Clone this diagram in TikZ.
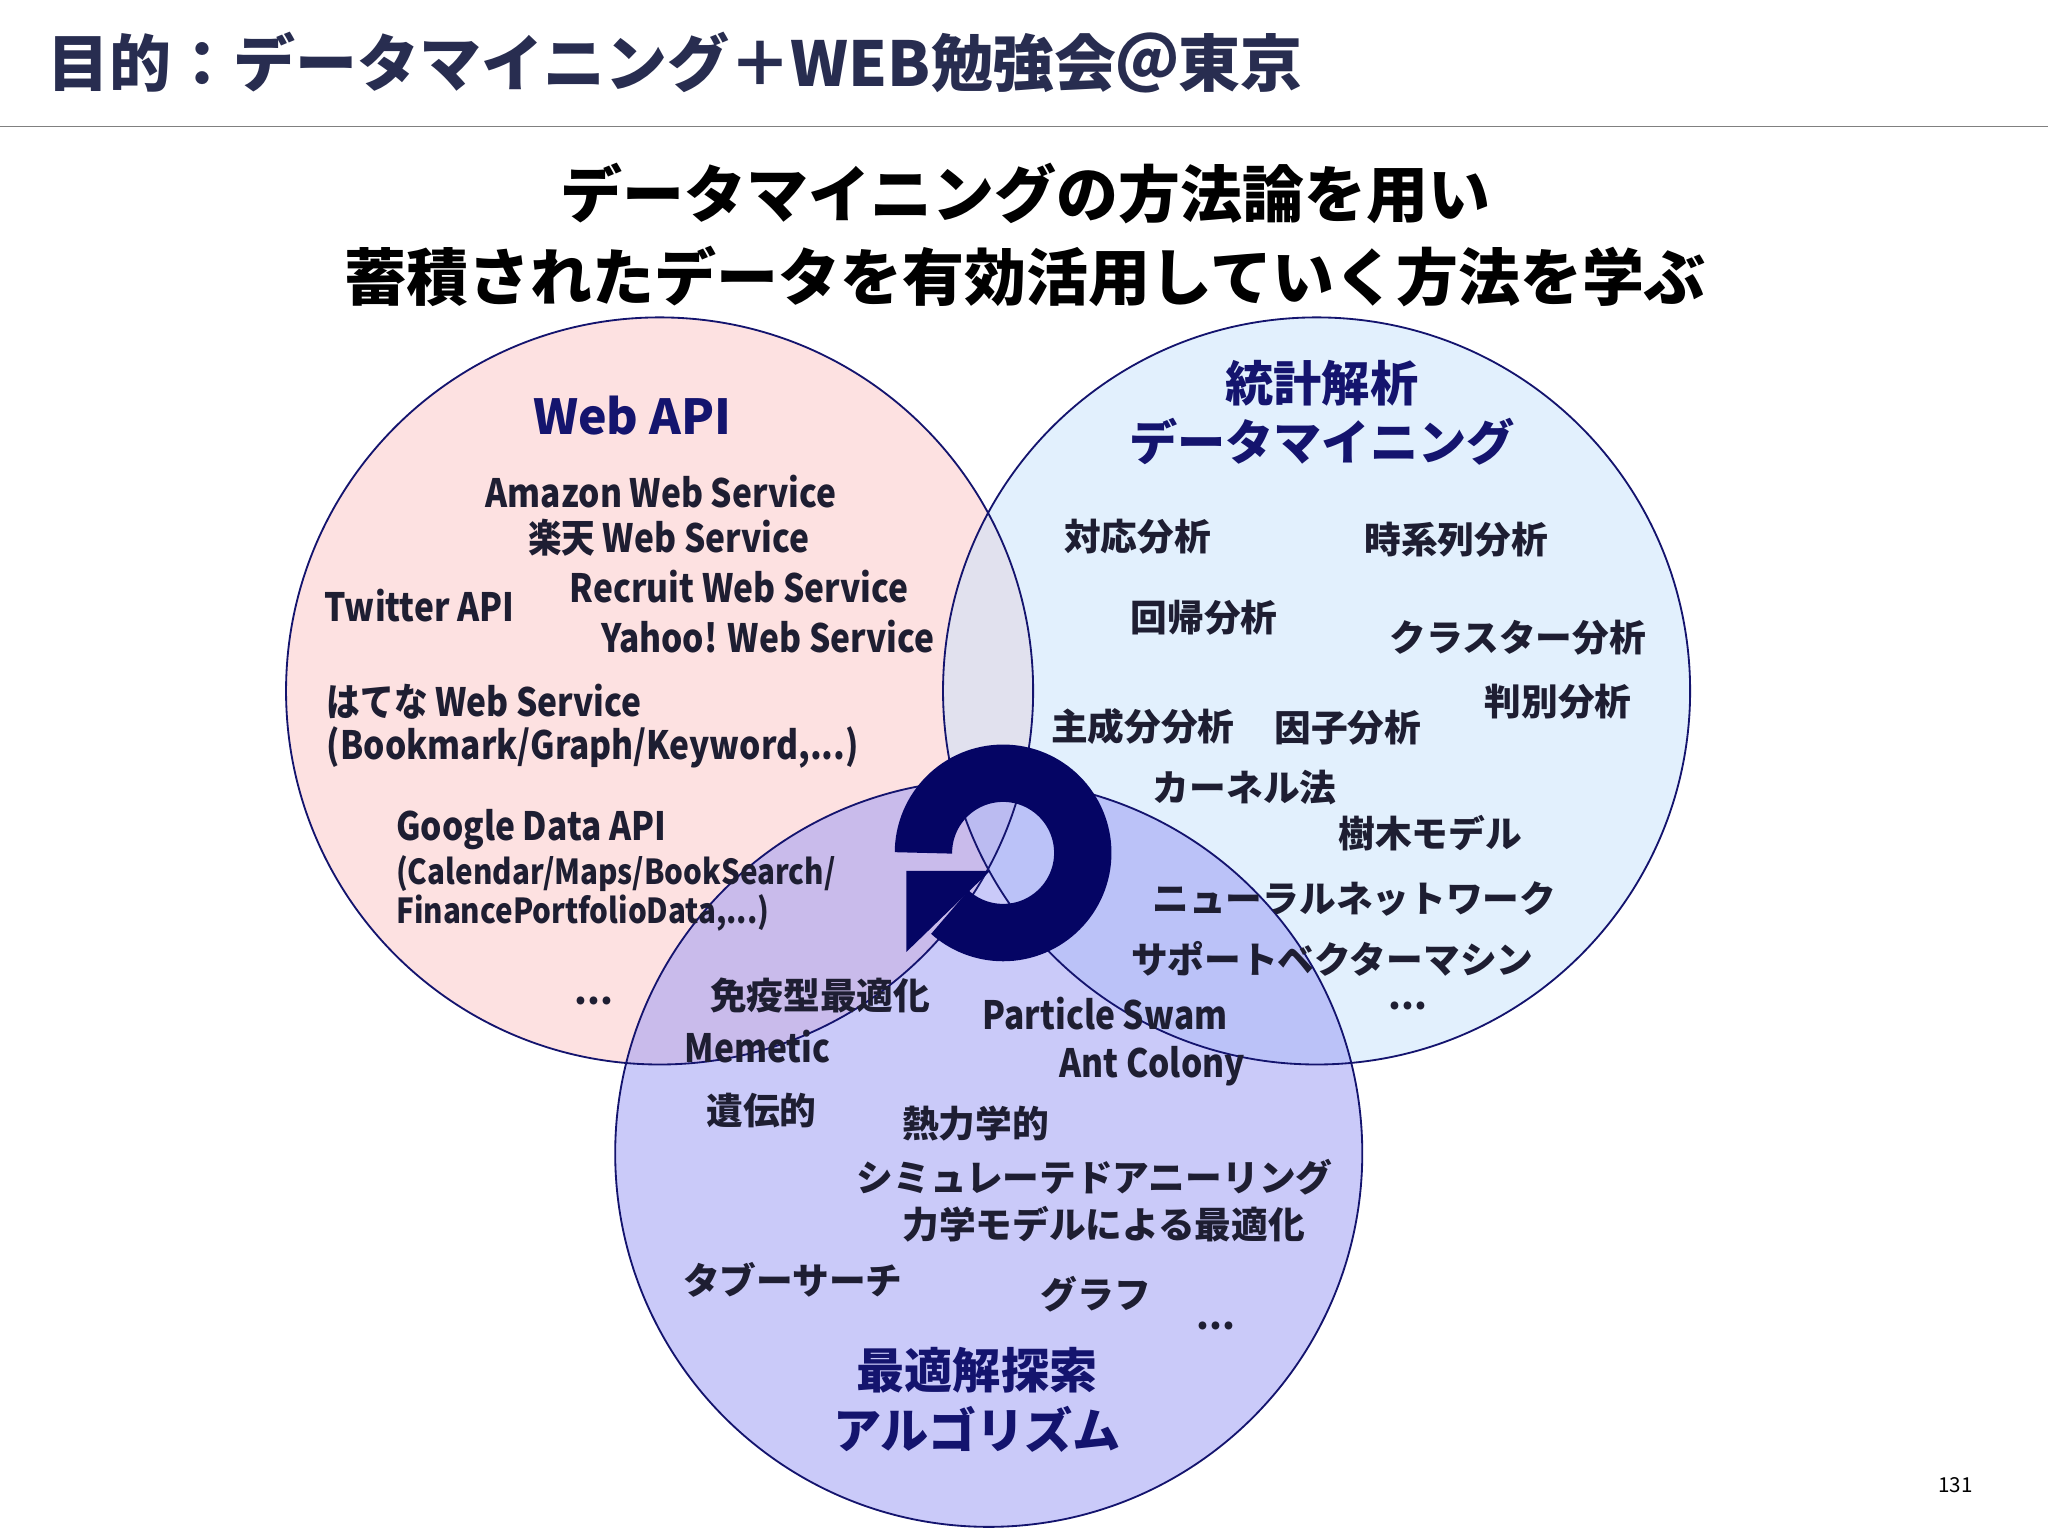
\documentclass[tikz,border=0pt]{standalone}
\usepackage{fontspec}
\setmainfont{Noto Sans CJK JP}
\definecolor{navy}{RGB}{20,20,110}
\definecolor{ringc}{RGB}{5,5,100}
\definecolor{txt}{RGB}{30,30,50}
\definecolor{ttl}{RGB}{40,45,80}
\definecolor{pinkf}{RGB}{252,196,196}
\definecolor{bluef}{RGB}{198,226,252}
\definecolor{lavf}{RGB}{150,150,245}
\tikzset{
 item/.style={font=\fontsize{16}{18}\selectfont\bfseries, text=txt, inner sep=0pt},
 lat/.style={font=\fontsize{17}{19}\selectfont\bfseries, text=txt, inner sep=0pt, xscale=0.86},
 head/.style={font=\fontsize{21}{26}\selectfont\bfseries, text=navy, align=center, inner sep=0pt},
 venn/.style={draw=navy, line width=0.8pt},
}
\begin{document}
\begin{tikzpicture}[x=0.02cm,y=-0.02cm]
\useasboundingbox (0,0) rectangle (1568,1176);
\fill[white] (0,0) rectangle (1568,1176);
\node[anchor=west, font=\fontsize{27}{30}\selectfont\bfseries, text=ttl, inner sep=0pt] (title) at (36,48) {目的：データマイニング＋WEB勉強会＠東京};
\draw[gray, line width=0.6pt] (0,97) -- (1568,97);
\node[font=\fontsize{27}{36}\selectfont\bfseries, align=center, text=black, inner sep=0pt] (sub) at (785,180) {データマイニングの方法論を用い\\蓄積されたデータを有効活用していく方法を学ぶ};
% circles
\fill[pinkf, fill opacity=0.5] (505,529) circle (286);
\fill[bluef, fill opacity=0.5] (1008,529) circle (286);
\fill[lavf, fill opacity=0.5] (757,883) circle (286);
\draw[venn] (505,529) circle (286);
\draw[venn] (1008,529) circle (286);
\draw[venn] (757,883) circle (286);
% cycle arrow
\coordinate (rc) at (768,653);
\draw[ringc, line width=25pt] (rc) ++(180:61) arc[start angle=180, end angle=492, radius=61];
\fill[ringc] (rc) ++(126:17) -- ++(-64,0) -- ++(0,62) -- cycle;
% left
\node[head] (h1) at (484,318) {Web API};
\node[lat] (a1) at (506,376) {Amazon Web Service};
\node[lat] (a2) at (512,412) {楽天 Web Service};
\node[lat] (a3) at (566,449) {Recruit Web Service};
\node[lat] (a4) at (588,487) {Yahoo! Web Service};
\node[lat] (a5) at (321,464) {Twitter API};
\node[lat, anchor=west, align=left] (a6) at (250,556) {はてな Web Service\\(Bookmark/Graph/Keyword,...)};
\node[lat, anchor=west] (a7) at (303,635) {Google Data API};
\node[lat, anchor=west, align=left, font=\fontsize{15}{17}\selectfont\bfseries] (a8) at (303,684) {(Calendar/Maps/BookSearch/\\ FinancePortfolioData,...)};
\node[item] (a9) at (455,766) {...};
% right
\node[head] (h2) at (1012,316) {統計解析\\データマイニング};
\node[item] (b1) at (871,411) {対応分析};
\node[item] (b2) at (1115,413) {時系列分析};
\node[item] (b3) at (922,473) {回帰分析};
\node[item] (b4) at (1162,488) {クラスター分析};
\node[item] (b5) at (1193,537) {判別分析};
\node[item] (b6) at (875,556) {主成分分析};
\node[item] (b7) at (1032,557) {因子分析};
\node[item] (b8) at (953,603) {カーネル法};
\node[item] (b9) at (1095,638) {樹木モデル};
\node[item] (b10) at (1037,688) {ニューラルネットワーク};
\node[item] (b11) at (1020,734) {サポートベクターマシン};
\node[item] (b12) at (1078,770) {...};
% bottom
\node[item] (c1) at (628,762) {免疫型最適化};
\node[lat] (c2) at (580,801) {Memetic};
\node[lat] (c3) at (846,776) {Particle Swam};
\node[lat] (c4) at (882,816) {Ant Colony};
\node[item] (c5) at (583,850) {遺伝的};
\node[item] (c6) at (747,860) {熱力学的};
\node[item] (c7) at (838,901) {シミュレーテドアニーリング};
\node[item] (c8) at (845,937) {力学モデルによる最適化};
\node[item] (c9) at (607,980) {タブーサーチ};
\node[item] (c10) at (839,991) {グラフ};
\node[item] (c11) at (931,1015) {...};
\node[head] (h3) at (748,1072) {最適解探索\\アルゴリズム};
\node[font=\fontsize{9}{10}\selectfont, inner sep=0pt] (pg) at (1497,1137) {131};
\end{tikzpicture}
\end{document}
